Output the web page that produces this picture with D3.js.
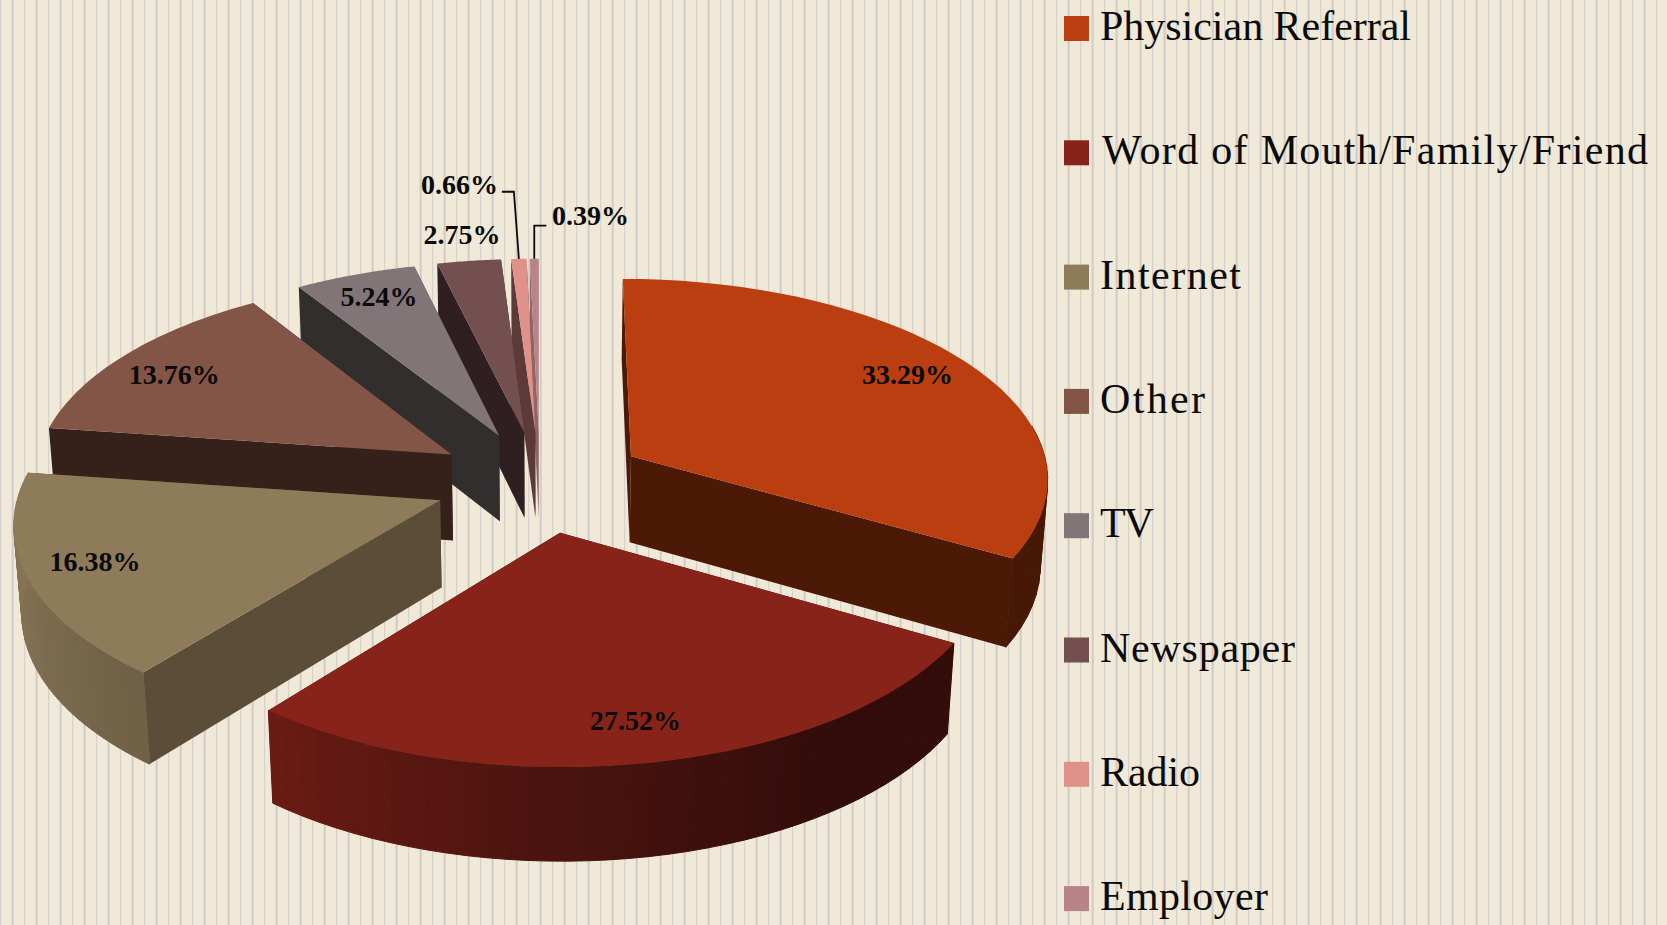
<!DOCTYPE html>
<html>
<head>
<meta charset="utf-8">
<script src="https://cdnjs.cloudflare.com/ajax/libs/d3/7.8.5/d3.min.js"></script>
<style>
html, body { margin: 0; padding: 0; background: #f0e9d8; overflow: hidden; }
text { font-family: "Liberation Serif", serif; fill: #0b0b0b; }
</style>
</head>
<body>
<div id="chart_container"></div>
<script>
const categories = ["Physician Referral", "Word of Mouth/Family/Friend", "Internet", "Other", "TV", "Newspaper", "Radio", "Employer"];
const shareValues = [33.29, 27.52, 16.38, 13.76, 5.24, 2.75, 0.66, 0.39];
const shareLabels = ["33.29%", "27.52%", "16.38%", "13.76%", "5.24%", "2.75%", "0.66%", "0.39%"];

const topColors = ["#bb3e10", "#88231a", "#8e7b5a", "#835546", "#817577", "#734f50", "#e0918a", "#b98487"];
const wallColors = ["#4c1906", "#3a0c07", "#5b4d38", "#36211a", "#332e2e", "#2f1f20", "#5c3a38", "#8f6666"];

// label placement on the top face, then a small nudge in pixels
const labelRadius = [0.78, 0.87, 0.83, 0.8, 0.8, 1.1, 1.3, 1.2];
const labelNudge = [[11, -9], [-2, -10], [-5, -3], [-14, 0], [-3, -9], [-2, -11], [-55, -29], [57, -12]];
// the legend font runs narrower than the original, so widths are set per entry
const legendWidths = [311, 546, 141, 105, 54, 195, 100, 168];

const width = 1667, height = 925;

const svg = d3.select("#chart_container").append("svg")
    .attr("width", width)
    .attr("height", height)
    .style("display", "block");

// striped backdrop
const stripes = d3.range(0.7, width, 12);
svg.append("rect").attr("width", width).attr("height", height).attr("fill", "#f0e9d8");
svg.append("g").selectAll("line").data(stripes).enter().append("line")
    .attr("x1", d => d).attr("x2", d => d)
    .attr("y1", 0).attr("y2", height)
    .attr("stroke", "#d2cdc8")
    .attr("stroke-width", (d, i) => i % 2 ? 2.2 : 1);

// perspective camera for the pie plane
const cam = {cx: 540, cy: 481.5, A: 419, B: 200, H: 88, p: 0.1, q: 0.015, explode: 0.254};

function project(X, Y, Z) {
    const w = 1 + cam.p * Y + cam.q * (-Z);
    return [cam.cx + cam.A * X / w, cam.cy + (-cam.B * Y - cam.H * Z) / w];
}

const pieLayout = d3.pie().sort(null).value(d => d)(shareValues);
const line = d3.line();

// shade of the outer wall by angle round the pie
const wallLight = d3.scaleLinear()
    .domain([80, 120, 145, 180, 219, 250, 278])
    .range([0.4, 0.38, 0.36, 0.55, 0.78, 0.9, 0.97]);

function sliceGeom(d) {
    const mid = (d.startAngle + d.endAngle) / 2;
    const ox = cam.explode * Math.sin(mid), oy = cam.explode * Math.cos(mid);
    const pt = (a, r, z) => project(ox + r * Math.sin(a), oy + r * Math.cos(a), z);
    return {mid, pt};
}

const slices = svg.append("g");
const drawOrder = [0, 7, 6, 5, 4, 3, 2, 1];

drawOrder.forEach(i => {
    const d = pieLayout[i];
    const {pt} = sliceGeom(d);
    const g = slices.append("g");
    const steps = d3.range(0, 41).map(k => d.startAngle + (d.endAngle - d.startAngle) * k / 40);

    // radial walls
    [d.startAngle, d.endAngle].forEach(a => {
        g.append("path")
            .attr("d", line([pt(a, 0, 0), pt(a, 1, 0), pt(a, 1, -1), pt(a, 0, -1)]) + "Z")
            .attr("fill", wallColors[i]);
    });

    // outer wall in narrow strips so the shade can run round the curve, front half only
    d3.pairs(steps).forEach(([a0, a1]) => {
        const deg = (a0 + a1) / 2 * 180 / Math.PI;
        if (deg < 80 || deg > 278) return;
        const c = d3.interpolateRgb("#000000", topColors[i])(wallLight(deg));
        g.append("path")
            .attr("d", line([pt(a0, 1, 0), pt(a1, 1, 0), pt(a1, 1, -1), pt(a0, 1, -1)]) + "Z")
            .attr("fill", c).attr("stroke", c).attr("stroke-width", 1);
    });

    // top face
    const rim = steps.map(a => pt(a, 1, 0));
    g.append("path")
        .attr("d", line([pt(0, 0, 0)].concat(rim)) + "Z")
        .attr("fill", topColors[i]);
});

// value labels
const labelPos = pieLayout.map((d, i) => {
    const {mid, pt} = sliceGeom(d);
    const p = pt(mid, labelRadius[i], 0);
    return [p[0] + labelNudge[i][0], p[1] + labelNudge[i][1]];
});

svg.append("g").selectAll("text").data(shareLabels).enter().append("text")
    .attr("x", (d, i) => labelPos[i][0])
    .attr("y", (d, i) => labelPos[i][1])
    .attr("dy", "0.35em")
    .attr("text-anchor", "middle")
    .attr("font-size", 28)
    .attr("font-weight", "bold")
    .text(d => d);

// leader lines for the two thin slices
[6, 7].forEach(i => {
    const d = pieLayout[i];
    const {mid, pt} = sliceGeom(d);
    const end = pt(mid, 1, 0);
    const elbowY = labelPos[i][1] + (i === 6 ? 8 : 10);
    const side = i === 6 ? -1 : 1;
    const elbowX = end[0] + (i === 6 ? -5 : 0);
    svg.append("path")
        .attr("d", line([[elbowX + side * 12, elbowY], [elbowX, elbowY], end]))
        .attr("fill", "none").attr("stroke", "#0b0b0b").attr("stroke-width", 1.8);
});

// legend
const legendY = d3.scalePoint().domain(categories).range([28.5, 898.6]);
const legend = svg.append("g").selectAll("g").data(categories).enter().append("g")
    .attr("transform", d => `translate(1064,${legendY(d)})`);
legend.append("rect")
    .attr("y", -12.5).attr("width", 25).attr("height", 25)
    .attr("fill", (d, i) => topColors[i]);
legend.append("text")
    .attr("x", (d, i) => i === 1 ? 38 : 36)
    .attr("y", -1)
    .attr("dy", "0.3em")
    .attr("font-size", 42)
    .attr("textLength", (d, i) => legendWidths[i])
    .attr("lengthAdjust", "spacing")
    .text(d => d);
</script>
</body>
</html>
